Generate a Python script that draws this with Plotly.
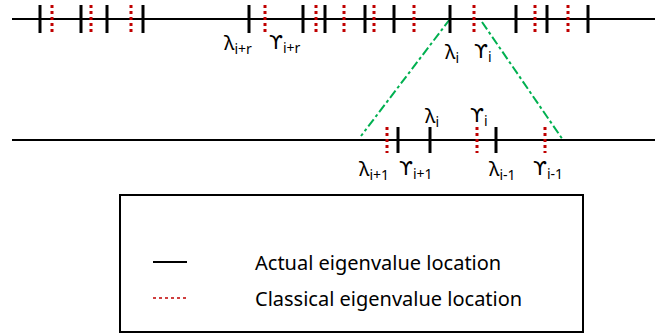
import plotly.graph_objects as go

# ---- data (positions along the eigenvalue axis) ----
top_actual = [40, 81, 107, 143, 249, 303, 325, 365, 394, 450, 516, 547, 588]
top_classical = [52, 91, 131, 265, 316, 344, 374, 414, 474, 535, 568]
bottom_actual = [398, 430, 496]
bottom_classical = [387, 477, 545]

UPS = "<span style='font-family:DejaVu Sans'>ϒ</span>"
top_labels = ["λ<sub>i+r</sub>", UPS + "<sub>i+r</sub>", "λ<sub>i</sub>", UPS + "<sub>i</sub>"]
top_label_x = [238, 285, 452, 483]
top_label_y = [43, 43, 52, 52]

bottom_labels_below = ["λ<sub>i+1</sub>", UPS + "<sub>i+1</sub>", "λ<sub>i-1</sub>", UPS + "<sub>i-1</sub>"]
bottom_labels_below_x = [374, 416, 502, 548]
bottom_labels_above = ["λ<sub>i</sub>", UPS + "<sub>i</sub>"]
bottom_labels_above_x = [432, 479]

legend_names = ["Actual eigenvalue location", "Classical eigenvalue location"]

# ---- layout constants ----
W, H = 661, 335
TOP_Y, BOT_Y = 19, 140
TOP_T = (5, 33)
BOT_T = (127, 153)
RED = "#c00000"
GREEN = "#00b050"

def ticks(xs, y0, y1):
    X, Y = [], []
    for x in xs:
        X += [x, x, None]
        Y += [y0, y1, None]
    return X, Y

fig = go.Figure()

# axis lines
fig.add_trace(go.Scatter(x=[12, 655], y=[TOP_Y, TOP_Y], mode="lines",
                         line=dict(color="black", width=2), hoverinfo="skip"))
fig.add_trace(go.Scatter(x=[12, 655], y=[BOT_Y, BOT_Y], mode="lines",
                         line=dict(color="black", width=2), hoverinfo="skip"))

# zoom lines
fig.add_trace(go.Scatter(x=[top_actual[9], 361], y=[TOP_Y, 136], mode="lines",
                         line=dict(color=GREEN, width=2, dash="dashdot"), hoverinfo="skip"))
fig.add_trace(go.Scatter(x=[482, 563], y=[22, 140], mode="lines",
                         line=dict(color=GREEN, width=2, dash="dashdot"), hoverinfo="skip"))

for xs, (a, b) in [(top_actual, TOP_T), (bottom_actual, BOT_T)]:
    X, Y = ticks(xs, a, b)
    fig.add_trace(go.Scatter(x=X, y=Y, mode="lines", line=dict(color="black", width=3),
                             hoverinfo="skip"))
for xs, (a, b) in [(top_classical, TOP_T), (bottom_classical, BOT_T)]:
    X, Y = ticks(xs, a, b)
    fig.add_trace(go.Scatter(x=X, y=Y, mode="lines", line=dict(color=RED, width=3, dash="dot"),
                             hoverinfo="skip"))

# legend samples
fig.add_trace(go.Scatter(x=[153, 187], y=[262, 262], mode="lines",
                         line=dict(color="black", width=2), hoverinfo="skip"))
fig.add_trace(go.Scatter(x=[153, 187], y=[298, 298], mode="lines",
                         line=dict(color=RED, width=1.5, dash="dot"), hoverinfo="skip"))

LF = dict(family="Noto Sans, DejaVu Sans", size=20, color="black")
ann = []
for t, x, y in zip(top_labels, top_label_x, top_label_y):
    ann.append(dict(x=x, y=y, text=t, showarrow=False, font=LF, xanchor="center", yanchor="middle"))
for t, x in zip(bottom_labels_below, bottom_labels_below_x):
    ann.append(dict(x=x, y=169, text=t, showarrow=False, font=LF, xanchor="center", yanchor="middle"))
for t, x in zip(bottom_labels_above, bottom_labels_above_x):
    ann.append(dict(x=x, y=116, text=t, showarrow=False, font=LF, xanchor="center", yanchor="middle"))
for t, y in zip(legend_names, [262, 298]):
    ann.append(dict(x=253, y=y, text=t, showarrow=False, xanchor="left", yanchor="middle",
                    font=dict(family="Noto Sans", size=20, color="black")))

fig.update_layout(
    width=W, height=H, margin=dict(l=0, r=0, t=0, b=0),
    plot_bgcolor="white", paper_bgcolor="white", showlegend=False,
    xaxis=dict(range=[0, W], visible=False, fixedrange=True),
    yaxis=dict(range=[H, 0], visible=False, fixedrange=True),
    annotations=ann,
    shapes=[dict(type="rect", x0=120, y0=195, x1=583, y1=332,
                 line=dict(color="black", width=2))],
)

fig.write_html("out.html", config={"displayModeBar": False},
               post_script="document.body.style.margin='0px';document.body.style.overflow='hidden';")
